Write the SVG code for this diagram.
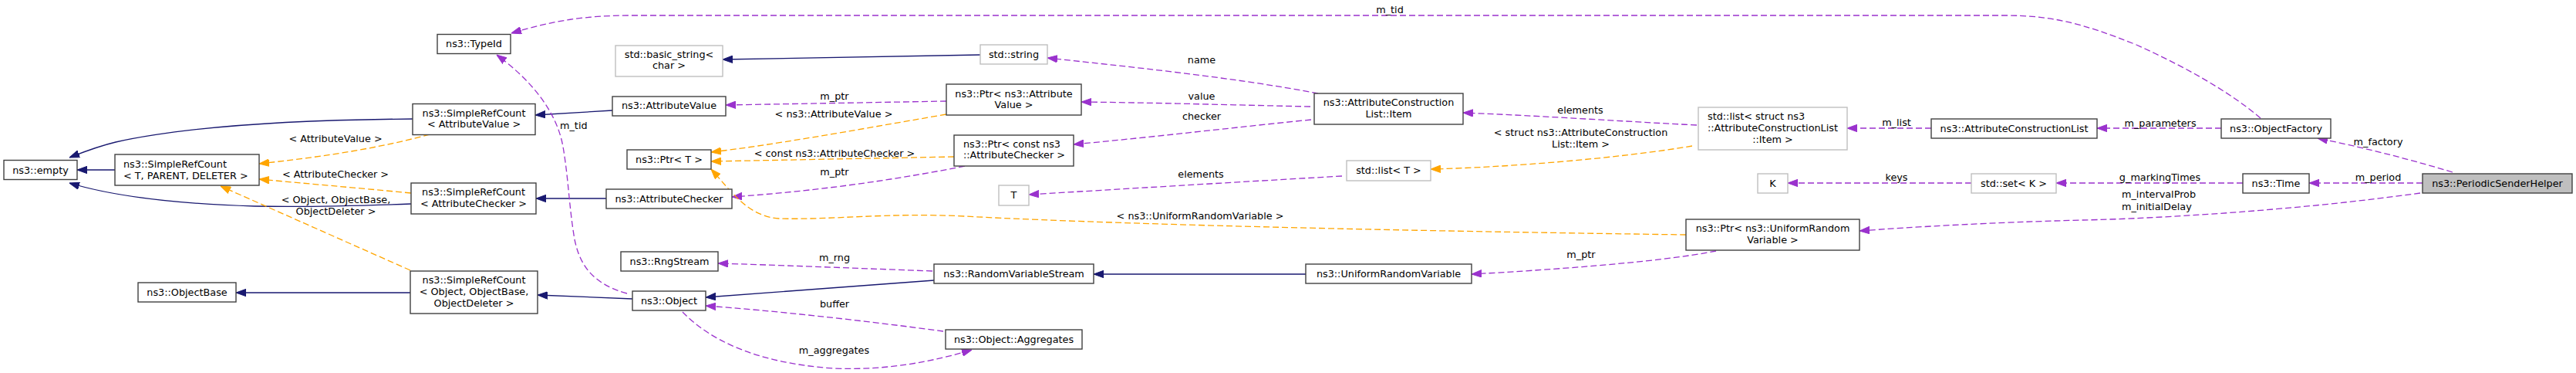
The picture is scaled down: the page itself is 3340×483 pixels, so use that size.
<svg xmlns="http://www.w3.org/2000/svg" width="3340" height="483" viewBox="0 0 3340 483">
<style>
.box{fill:#ffffff;stroke:#404040;stroke-width:1.4}
.gbox{fill:#ffffff;stroke:#bfbfbf;stroke-width:1.4}
.hbox{fill:#bfbfbf;stroke:#404040;stroke-width:1.4}
.t{font-family:"DejaVu Sans",sans-serif;font-size:12.8px;fill:#000000}
.c{text-anchor:middle}
.inh{fill:none;stroke:#191970;stroke-width:1.3;marker-end:url(#aN)}
.use{fill:none;stroke:#9a32cd;stroke-width:1.3;stroke-dasharray:8,4;marker-end:url(#aP)}
.tpl{fill:none;stroke:#ffa500;stroke-width:1.3;stroke-dasharray:8,4;marker-end:url(#aO)}
</style>
<defs>
<marker id="aN" viewBox="0 0 13 10" refX="13" refY="5" markerWidth="13" markerHeight="10" markerUnits="userSpaceOnUse" orient="auto"><path d="M0,0.3 L13,5 L0,9.7 z" fill="#191970" stroke="#191970" stroke-width="1"/></marker>
<marker id="aP" viewBox="0 0 13 10" refX="13" refY="5" markerWidth="13" markerHeight="10" markerUnits="userSpaceOnUse" orient="auto"><path d="M0,0.3 L13,5 L0,9.7 z" fill="#9a32cd" stroke="#9a32cd" stroke-width="1"/></marker>
<marker id="aO" viewBox="0 0 13 10" refX="13" refY="5" markerWidth="13" markerHeight="10" markerUnits="userSpaceOnUse" orient="auto"><path d="M0,0.3 L13,5 L0,9.7 z" fill="#ffa500" stroke="#ffa500" stroke-width="1"/></marker>
</defs>
<rect x="0" y="0" width="3340" height="483" fill="#ffffff"/>
<g id="edges">
<path class="inh" d="M149,220 L100,220"/>
<path class="inh" d="M535,154 C400,155 250,162 150,184 C125,190 108,197 90,204"/>
<path class="inh" d="M533,264 C450,267 380,268 330,267 C230,264 150,255 90,237"/>
<path class="inh" d="M532,379 L306,379"/>
<path class="inh" d="M794,143 L694,149"/>
<path class="inh" d="M786,257 L695,257"/>
<path class="inh" d="M820,387 L697,382"/>
<path class="inh" d="M1271,71 L937,77"/>
<path class="inh" d="M1211,363 L915,385"/>
<path class="inh" d="M1693,355 L1418,355"/>
<path class="tpl" d="M557,174 C480,195 400,205 336,212"/>
<text class="t c" x="435" y="183.5">&lt; AttributeValue &gt;</text>
<path class="tpl" d="M533,250 C460,243 400,238 336,232"/>
<text class="t c" x="435" y="229.5">&lt; AttributeChecker &gt;</text>
<path class="tpl" d="M532,350 L286,241"/>
<text class="t c" x="435.5" y="262.5">&lt; Object, ObjectBase,</text>
<text class="t c" x="435.5" y="277.5">ObjectDeleter &gt;</text>
<path class="use" d="M2931,153 C2890,118 2830,85 2770,58 C2700,30 2660,20 2600,20 L820,20 C760,20 720,26 663,43"/>
<text class="t c" x="1802" y="16.5">m_tid</text>
<path class="use" d="M813,380 C770,368 752,345 745,310 C738,270 737,230 730,190 C722,145 690,105 644,71"/>
<text class="t" x="726" y="166.5">m_tid</text>
<path class="use" d="M1227,131 L941,136"/>
<text class="t c" x="1082" y="128.5">m_ptr</text>
<path class="tpl" d="M1227,148 C1100,170 1000,188 922,197"/>
<text class="t c" x="1081" y="151.5">&lt; ns3::AttributeValue &gt;</text>
<path class="tpl" d="M1237,203 L922,209"/>
<text class="t c" x="1082" y="202.5">&lt; const ns3::AttributeChecker &gt;</text>
<path class="use" d="M1251,215 C1150,235 1050,248 949,255"/>
<text class="t c" x="1082" y="226.5">m_ptr</text>
<path class="tpl" d="M2186,304 C1900,300 1500,293 1250,280 C1150,275 1080,285 1010,283 C970,280 950,250 922,219"/>
<text class="t c" x="1556" y="283.5">&lt; ns3::UniformRandomVariable &gt;</text>
<path class="use" d="M2225,325 C2150,340 2000,350 1908,355"/>
<text class="t c" x="2050" y="333.5">m_ptr</text>
<path class="use" d="M1709,121 C1600,100 1450,85 1358,75"/>
<text class="t c" x="1558" y="81.5">name</text>
<path class="use" d="M1699,138 C1600,136 1500,133 1402,132"/>
<text class="t c" x="1558" y="128.5">value</text>
<path class="use" d="M1700,155 C1600,165 1500,177 1392,187"/>
<text class="t c" x="1558" y="154.5">checker</text>
<path class="use" d="M1740,228 C1600,236 1450,245 1334,252"/>
<text class="t c" x="1557" y="229.5">elements</text>
<path class="tpl" d="M2194,189 C2100,205 1950,217 1855,219"/>
<text class="t c" x="2049.5" y="175.5">&lt; struct ns3::AttributeConstruction</text>
<text class="t c" x="2049.5" y="190.5">List::Item &gt;</text>
<path class="use" d="M2200,162 C2100,157 2000,150 1897,146"/>
<text class="t c" x="2049" y="146.5">elements</text>
<path class="use" d="M2504,166 L2395,166"/>
<text class="t c" x="2459" y="162.5">m_list</text>
<path class="use" d="M2880,166 L2719,166"/>
<text class="t c" x="2801" y="163.5">m_parameters</text>
<path class="use" d="M3180,223 C3120,205 3060,190 3005,179"/>
<text class="t c" x="3083.5" y="187.5">m_factory</text>
<path class="use" d="M3141,237 L2994,237"/>
<text class="t c" x="3083.5" y="233.5">m_period</text>
<path class="use" d="M2908,237 L2666,237"/>
<text class="t c" x="2800.5" y="233.5">g_markingTimes</text>
<path class="use" d="M2556,237 L2318,237"/>
<text class="t c" x="2459" y="233.5">keys</text>
<path class="use" d="M3138,250 C2980,272 2800,283 2700,285 C2580,288 2480,294 2411,299"/>
<text class="t" x="2751" y="255.5">m_intervalProb</text>
<text class="t" x="2751" y="271.5">m_initialDelay</text>
<path class="use" d="M885,404 C920,440 980,470 1080,477 C1150,480 1210,468 1260,453"/>
<text class="t c" x="1081.5" y="457.5">m_aggregates</text>
<path class="use" d="M1223,429 C1120,415 1000,402 915,396"/>
<text class="t c" x="1082" y="397.5">buffer</text>
<path class="use" d="M1209,351 C1100,347 1000,343 931,341"/>
<text class="t c" x="1082" y="337.5">m_rng</text>
</g>
<g id="n-empty"><rect class="box" x="5" y="207.5" width="95" height="25"/><text class="t c" x="52.5" y="224.5">ns3::empty</text></g>
<g id="n-simplerefcount-t"><rect class="box" x="149" y="200" width="187" height="40"/><text class="t" x="160" y="216.5">ns3::SimpleRefCount</text><text class="t" x="160" y="231.5">&lt; T, PARENT, DELETER &gt;</text></g>
<g id="n-objectbase"><rect class="box" x="179" y="366" width="127" height="25"/><text class="t c" x="242.5" y="383">ns3::ObjectBase</text></g>
<g id="n-src-attributevalue"><rect class="box" x="535" y="134.5" width="159" height="40"/><text class="t c" x="614.5" y="151">ns3::SimpleRefCount</text><text class="t c" x="614.5" y="165">&lt; AttributeValue &gt;</text></g>
<g id="n-src-attributechecker"><rect class="box" x="533" y="237" width="162" height="40"/><text class="t c" x="614" y="253">ns3::SimpleRefCount</text><text class="t c" x="614" y="268">&lt; AttributeChecker &gt;</text></g>
<g id="n-src-object"><rect class="box" x="532" y="351" width="165" height="55"/><text class="t c" x="614.5" y="366.5">ns3::SimpleRefCount</text><text class="t c" x="614.5" y="381.5">&lt; Object, ObjectBase,</text><text class="t c" x="614.5" y="396.5">ObjectDeleter &gt;</text></g>
<g id="n-typeid"><rect class="box" x="567" y="44.5" width="95" height="25"/><text class="t c" x="614.5" y="61">ns3::TypeId</text></g>
<g id="n-basic-string"><rect class="gbox" x="798" y="59" width="139" height="40"/><text class="t c" x="867.5" y="75">std::basic_string&lt;</text><text class="t c" x="867.5" y="89">char &gt;</text></g>
<g id="n-attributevalue"><rect class="box" x="794" y="125" width="147" height="25"/><text class="t c" x="867.5" y="141">ns3::AttributeValue</text></g>
<g id="n-ptr-t"><rect class="box" x="813" y="194" width="109" height="25"/><text class="t c" x="867.5" y="210.5">ns3::Ptr&lt; T &gt;</text></g>
<g id="n-attributechecker"><rect class="box" x="786" y="245" width="163" height="25"/><text class="t c" x="867.5" y="261.5">ns3::AttributeChecker</text></g>
<g id="n-rngstream"><rect class="box" x="805" y="326" width="126" height="25"/><text class="t c" x="868" y="342.5">ns3::RngStream</text></g>
<g id="n-object"><rect class="box" x="820" y="377" width="95" height="25"/><text class="t c" x="867.5" y="393.5">ns3::Object</text></g>
<g id="n-std-string"><rect class="gbox" x="1271" y="58" width="87" height="25"/><text class="t c" x="1314.5" y="74.5">std::string</text></g>
<g id="n-ptr-attributevalue"><rect class="box" x="1227" y="109" width="175" height="40"/><text class="t c" x="1314.5" y="125.5">ns3::Ptr&lt; ns3::Attribute</text><text class="t c" x="1314.5" y="140">Value &gt;</text></g>
<g id="n-ptr-attributechecker"><rect class="box" x="1237" y="175" width="155" height="40"/><text class="t" x="1249" y="191">ns3::Ptr&lt; const ns3</text><text class="t" x="1249" y="205">::AttributeChecker &gt;</text></g>
<g id="n-t"><rect class="gbox" x="1295" y="240" width="39" height="26"/><text class="t c" x="1314.5" y="257">T</text></g>
<g id="n-randomvariablestream"><rect class="box" x="1211" y="342" width="207" height="25"/><text class="t c" x="1314.5" y="358.5">ns3::RandomVariableStream</text></g>
<g id="n-aggregates"><rect class="box" x="1226" y="427" width="177" height="25"/><text class="t c" x="1314.5" y="443.5">ns3::Object::Aggregates</text></g>
<g id="n-acl-item"><rect class="box" x="1704" y="121" width="193" height="40"/><text class="t c" x="1800.5" y="137">ns3::AttributeConstruction</text><text class="t c" x="1800.5" y="152">List::Item</text></g>
<g id="n-list-t"><rect class="gbox" x="1746" y="208" width="109" height="26"/><text class="t c" x="1800.5" y="224.5">std::list&lt; T &gt;</text></g>
<g id="n-uniformrandomvariable"><rect class="box" x="1693" y="342" width="215" height="25"/><text class="t c" x="1800.5" y="358.5">ns3::UniformRandomVariable</text></g>
<g id="n-list-item"><rect class="gbox" x="2202" y="139" width="193" height="55"/><text class="t" x="2214" y="155">std::list&lt; struct ns3</text><text class="t c" x="2298.5" y="170">::AttributeConstructionList</text><text class="t c" x="2298.5" y="185">::Item &gt;</text></g>
<g id="n-acl"><rect class="box" x="2504" y="154" width="215" height="25"/><text class="t c" x="2611.5" y="170.5">ns3::AttributeConstructionList</text></g>
<g id="n-k"><rect class="gbox" x="2279" y="225" width="39" height="25"/><text class="t c" x="2298.5" y="242">K</text></g>
<g id="n-set-k"><rect class="gbox" x="2556" y="225" width="110" height="25"/><text class="t c" x="2611" y="242">std::set&lt; K &gt;</text></g>
<g id="n-ptr-urv"><rect class="box" x="2186" y="284" width="225" height="40"/><text class="t c" x="2298.5" y="299.5">ns3::Ptr&lt; ns3::UniformRandom</text><text class="t c" x="2298.5" y="314.5">Variable &gt;</text></g>
<g id="n-objectfactory"><rect class="box" x="2880" y="154" width="142" height="25"/><text class="t c" x="2951" y="170.5">ns3::ObjectFactory</text></g>
<g id="n-time"><rect class="box" x="2908" y="225" width="86" height="25"/><text class="t c" x="2951" y="242">ns3::Time</text></g>
<g id="n-periodicsenderhelper"><rect class="hbox" x="3141" y="225" width="194" height="25"/><text class="t c" x="3238" y="242">ns3::PeriodicSenderHelper</text></g>
</svg>
